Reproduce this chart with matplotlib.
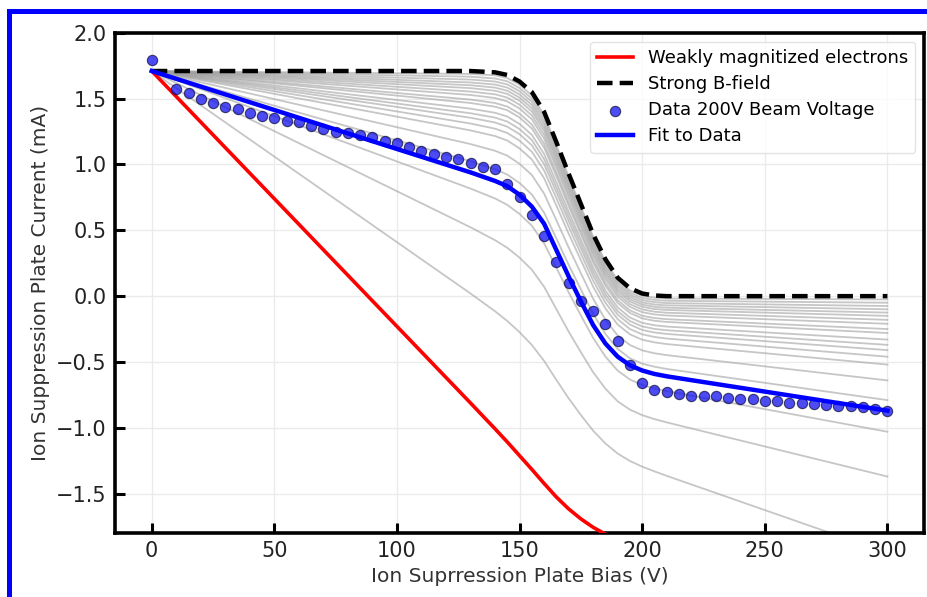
import matplotlib
matplotlib.use('Agg')
import matplotlib.pyplot as plt
from matplotlib.patches import Rectangle

# ---- data ----
bias_knots = [0, 130, 140, 145, 150, 155, 160, 165, 170, 175, 180, 185, 190, 195, 200, 205, 210, 300]
strong_b = [1.71, 1.71, 1.70, 1.68, 1.63, 1.55, 1.40, 1.17, 0.93, 0.70, 0.47, 0.28, 0.14, 0.06, 0.02, 0.005, 0.0, 0.0]
weak = [1.71, -0.812, -1.008, -1.108, -1.212, -1.316, -1.423, -1.526, -1.616, -1.692, -1.756, -1.808,
        -1.854, -1.898, -1.943, -1.989, -2.037, -2.91]
fit = [1.71, 0.94, 0.875, 0.835, 0.77, 0.68, 0.55, 0.35, 0.15, -0.04, -0.22, -0.36, -0.46, -0.525,
       -0.565, -0.591, -0.609, -0.87]

# family of intermediate-field curves (grey)
gray_01 = [1.71, 1.688, 1.677, 1.656, 1.606, 1.525, 1.376, 1.147, 0.908, 0.679, 0.451, 0.262, 0.123, 0.043, 0.003, -0.012, -0.018, -0.025]
gray_02 = [1.71, 1.667, 1.653, 1.632, 1.581, 1.501, 1.352, 1.124, 0.886, 0.659, 0.432, 0.244, 0.106, 0.026, -0.014, -0.029, -0.035, -0.05]
gray_03 = [1.71, 1.645, 1.630, 1.608, 1.557, 1.476, 1.327, 1.101, 0.864, 0.638, 0.413, 0.226, 0.089, 0.010, -0.031, -0.046, -0.053, -0.075]
gray_04 = [1.71, 1.623, 1.607, 1.584, 1.532, 1.452, 1.303, 1.077, 0.843, 0.618, 0.394, 0.208, 0.072, -0.007, -0.048, -0.064, -0.07, -0.10]
gray_05 = [1.71, 1.602, 1.584, 1.560, 1.508, 1.427, 1.279, 1.054, 0.821, 0.597, 0.374, 0.190, 0.054, -0.024, -0.064, -0.081, -0.088, -0.125]
gray_06 = [1.71, 1.58, 1.560, 1.536, 1.484, 1.402, 1.255, 1.031, 0.799, 0.577, 0.355, 0.172, 0.037, -0.041, -0.081, -0.098, -0.105, -0.15]
gray_07 = [1.71, 1.554, 1.533, 1.508, 1.454, 1.373, 1.225, 1.003, 0.773, 0.552, 0.332, 0.151, 0.017, -0.061, -0.101, -0.118, -0.126, -0.18]
gray_08 = [1.71, 1.528, 1.505, 1.479, 1.425, 1.343, 1.196, 0.976, 0.746, 0.527, 0.309, 0.129, -0.004, -0.081, -0.122, -0.139, -0.147, -0.21]
gray_09 = [1.71, 1.493, 1.467, 1.440, 1.386, 1.304, 1.158, 0.938, 0.711, 0.495, 0.279, 0.101, -0.031, -0.108, -0.149, -0.166, -0.175, -0.25]
gray_10 = [1.71, 1.467, 1.439, 1.412, 1.357, 1.274, 1.128, 0.911, 0.685, 0.470, 0.256, 0.079, -0.052, -0.128, -0.169, -0.187, -0.196, -0.28]
gray_11 = [1.71, 1.424, 1.393, 1.364, 1.308, 1.225, 1.080, 0.864, 0.641, 0.429, 0.218, 0.043, -0.086, -0.162, -0.203, -0.221, -0.231, -0.33]
gray_12 = [1.71, 1.389, 1.356, 1.326, 1.269, 1.186, 1.041, 0.827, 0.606, 0.396, 0.187, 0.015, -0.114, -0.189, -0.230, -0.249, -0.259, -0.37]
gray_13 = [1.71, 1.355, 1.319, 1.287, 1.230, 1.146, 1.002, 0.790, 0.571, 0.363, 0.156, -0.014, -0.141, -0.216, -0.257, -0.276, -0.287, -0.41]
gray_14 = [1.71, 1.311, 1.272, 1.239, 1.181, 1.097, 0.954, 0.744, 0.528, 0.322, 0.118, -0.050, -0.175, -0.250, -0.290, -0.310, -0.322, -0.46]
gray_15 = [1.71, 1.259, 1.216, 1.182, 1.122, 1.038, 0.896, 0.688, 0.475, 0.273, 0.072, -0.093, -0.216, -0.290, -0.331, -0.351, -0.364, -0.52]
gray_16 = [1.71, 1.155, 1.104, 1.067, 1.005, 0.920, 0.779, 0.577, 0.370, 0.174, -0.020, -0.179, -0.299, -0.371, -0.412, -0.434, -0.448, -0.64]
gray_17 = [1.71, 1.025, 0.965, 0.923, 0.859, 0.772, 0.634, 0.438, 0.239, 0.051, -0.134, -0.287, -0.401, -0.472, -0.513, -0.536, -0.553, -0.79]
gray_18 = [1.71, 0.817, 0.742, 0.693, 0.624, 0.535, 0.401, 0.216, 0.029, -0.147, -0.318, -0.459, -0.566, -0.633, -0.675, -0.701, -0.721, -1.03]
gray_19 = [1.71, 0.523, 0.425, 0.367, 0.292, 0.201, 0.071, -0.099, -0.269, -0.426, -0.578, -0.703, -0.799, -0.862, -0.904, -0.934, -0.959, -1.37]
gray_20 = [1.71, 0.02, -0.115, -0.189, -0.274, -0.371, -0.492, -0.636, -0.776, -0.903, -1.022, -1.119, -1.196, -1.252, -1.295, -1.331, -1.365, -1.95]

data_bias = [0, 10, 15, 20, 25, 30, 35, 40, 45, 50, 55, 60, 65, 70, 75, 80, 85, 90, 95, 100,
             105, 110, 115, 120, 125, 130, 135, 140, 145, 150, 155, 160, 165, 170, 175, 180, 185, 190, 195, 200,
             205, 210, 215, 220, 225, 230, 235, 240, 245, 250, 255, 260, 265, 270, 275, 280, 285, 290, 295, 300]
data_current = [1.79, 1.57, 1.54, 1.50, 1.47, 1.44, 1.42, 1.39, 1.37, 1.35, 1.33, 1.32, 1.29, 1.27, 1.25, 1.24,
                1.225, 1.21, 1.18, 1.16, 1.13, 1.105, 1.08, 1.06, 1.04, 1.01, 0.98, 0.965, 0.85, 0.75, 0.62, 0.46,
                0.26, 0.10, -0.04, -0.11, -0.215, -0.34, -0.52, -0.66, -0.71, -0.73, -0.74, -0.755, -0.76, -0.76,
                -0.77, -0.78, -0.785, -0.795, -0.80, -0.81, -0.81, -0.82, -0.825, -0.835, -0.835, -0.845, -0.86, -0.87]

xticks = [0, 50, 100, 150, 200, 250, 300]
yticks = [-1.5, -1.0, -0.5, 0.0, 0.5, 1.0, 1.5, 2.0]

gray_family = [gray_01, gray_02, gray_03, gray_04, gray_05, gray_06, gray_07, gray_08, gray_09, gray_10,
               gray_11, gray_12, gray_13, gray_14, gray_15, gray_16, gray_17, gray_18, gray_19, gray_20]

# ---- figure ----
fig = plt.figure(figsize=(9.27, 5.97), dpi=100)
ax = fig.add_axes([0.124, 0.107, 0.873, 0.838])

for curve in gray_family:
    ax.plot(bias_knots, curve, color='#a0a0a0', lw=1.3, alpha=0.6, zorder=1)

ax.plot(bias_knots, weak, color='#ff0000', lw=2.6, label='Weakly magnitized electrons', zorder=3)
ax.plot(bias_knots, strong_b, color='black', lw=3.2, ls=(0, (3.5, 1.6)), label='Strong B-field', zorder=4)
ax.scatter(data_bias, data_current, s=55, color='#1010ee', edgecolor='#101040', linewidth=0.8,
           alpha=0.75, label='Data 200V Beam Voltage', zorder=5)
ax.plot(bias_knots, fit, color='#0000ff', lw=3.2, label='Fit to Data', zorder=6)

ax.set_xlim(-15, 315)
ax.set_ylim(-1.8, 2.0)
ax.set_xticks(xticks)
ax.set_yticks(yticks)
ax.grid(True, color='#ebebeb', lw=1.0, zorder=0)
ax.set_axisbelow(True)
for s in ax.spines.values():
    s.set_linewidth(2.6)
ax.tick_params(direction='in', length=7, width=2.2, labelsize=15, pad=6)
ax.set_xlabel('Ion Suprression Plate Bias (V)', fontsize=14.5, color='#333333')
ax.set_ylabel('Ion Suppression Plate Current (mA)', fontsize=14.5, color='#333333')
for lab in ax.get_xticklabels() + ax.get_yticklabels():
    lab.set_color('#222222')

leg = ax.legend(loc='upper right', fontsize=13, scatterpoints=1, frameon=True, fancybox=True,
                borderaxespad=0.5, handlelength=2.0, labelspacing=0.45)
leg.get_frame().set_edgecolor('#dddddd')

fig.add_artist(Rectangle((9.2 / 927, -0.2), 1.2, 1.2 - 10.8 / 597, transform=fig.transFigure,
                         fill=False, edgecolor='#0000ff', lw=3.6))

fig.savefig('out.png', dpi=100)
